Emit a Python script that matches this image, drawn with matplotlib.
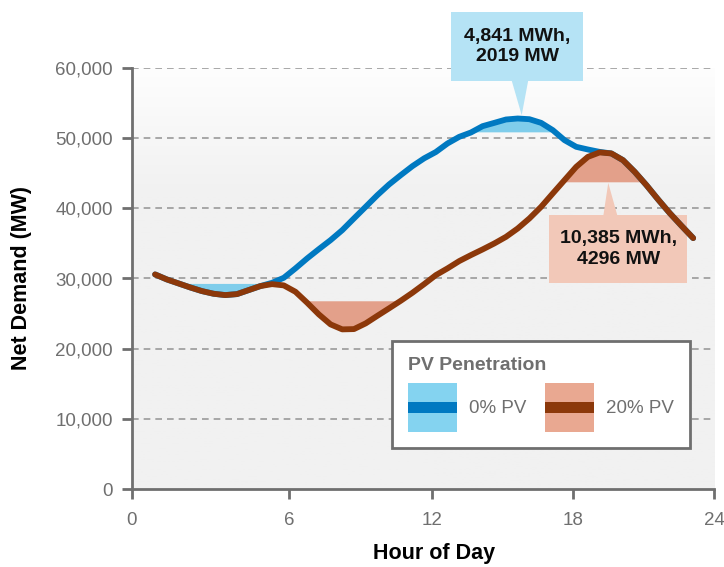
import matplotlib
matplotlib.use('Agg')
import matplotlib.pyplot as plt
import numpy as np
from matplotlib.patches import Rectangle, Polygon
from matplotlib.legend_handler import HandlerBase
from matplotlib.colors import LinearSegmentedColormap

plt.rcParams['font.family'] = ['Liberation Sans', 'DejaVu Sans']

# ---------------- data (half-hourly readings, hour 1 .. 24) ----------------
hours = [1.0, 1.5, 2.0, 2.5, 3.0, 3.5, 4.0, 4.5, 5.0, 5.5, 6.0, 6.5, 7.0, 7.5, 8.0, 8.5,
         9.0, 9.5, 10.0, 10.5, 11.0, 11.5, 12.0, 12.5, 13.0, 13.5, 14.0, 14.5, 15.0, 15.5,
         16.0, 16.5, 17.0, 17.5, 18.0, 18.5, 19.0, 19.5, 20.0, 20.5, 21.0, 21.5, 22.0, 22.5,
         23.0, 23.5, 24.0]
demand_0pv = [30580, 29870, 29300, 28730, 28210, 27830, 27640, 27780, 28350, 28920,
              29390, 30100, 31440, 32860, 34180, 35460, 36880, 38550, 40200, 41860,
              43380, 44710, 45990, 47100, 48000, 49220, 50160, 50780, 51680, 52150,
              52630, 52770, 52670, 52150, 51110, 49690, 48740, 48360, 48020, 47800,
              46840, 45180, 43290, 41250, 39300, 37500, 35750]
demand_20pv = [30580, 29870, 29300, 28730, 28210, 27830, 27640, 27780, 28350, 28920,
               29200, 29020, 28110, 26550, 24890, 23470, 22760, 22800, 23610, 24690,
               25750, 26830, 27970, 29200, 30480, 31440, 32480, 33330, 34140, 34990,
               35930, 37120, 38550, 40200, 42110, 44000, 45890, 47310, 47940, 47800,
               46840, 45180, 43290, 41250, 39300, 37500, 35750]
series_labels = ['0% PV', '20% PV']
legend_title = 'PV Penetration'

valley_0pv = 29300
peak_0pv = 50870
valley_20pv = 26830
peak_20pv = 43760

callout_0pv = '4,841 MWh,\n2019 MW'
callout_20pv = '10,385 MWh,\n4296 MW'

xtick_labels = ['0', '6', '12', '18', '24']
xtick_pos = [0, 6.73, 12.82, 18.88, 24.89]
ytick_vals = [0, 10000, 20000, 30000, 40000, 50000, 60000]
ytick_labels = ['0', '10,000', '20,000', '30,000', '40,000', '50,000', '60,000']

# ---------------- style ----------------
blue_line = '#0079c1'
blue_fill = '#7fcdeb'
blue_leg = '#84d3f0'
blue_call = '#b5e3f5'
brown_line = '#8c380a'
brown_fill = '#e3a08a'
brown_leg = '#e9a891'
brown_call = '#f2c8b8'
axis_gray = '#6f6f6f'


class Swatch:
    def __init__(self, fill, line):
        self.fill = fill
        self.line = line


class SwatchHandler(HandlerBase):
    def create_artists(self, legend, orig_handle, xdescent, ydescent, width, height,
                       fontsize, trans):
        bg = Rectangle((-xdescent, -ydescent), width, height, facecolor=orig_handle.fill,
                       edgecolor='none', transform=trans)
        band_h = 8.0
        band = Rectangle((-xdescent, -ydescent + height / 2 - band_h / 2), width, band_h,
                         facecolor=orig_handle.line, edgecolor='none', transform=trans)
        return [bg, band]


XMAX = 24.89
fig = plt.figure(figsize=(7.24, 5.67), dpi=100)
ax = fig.add_axes([131.7 / 724, 1 - 489.3 / 567, 582.3 / 724, 421.6 / 567])

# background gradient
grad = np.linspace(0, 1, 256).reshape(-1, 1)
cmap = LinearSegmentedColormap.from_list('bg', [(0, '#f1f1f1'), (0.7, '#f1f1f1'), (1, '#fefefe')])
ax.imshow(grad, extent=[0, XMAX, 0, 60000], origin='lower', aspect='auto', cmap=cmap, zorder=0)

# gridlines
for v in ytick_vals[1:]:
    ax.axhline(v, color='#9a9a9a', lw=1.2, ls=(0, (4, 3)), zorder=1)

h = np.array(hours, dtype=float)
d0 = np.array(demand_0pv, dtype=float)
d20 = np.array(demand_20pv, dtype=float)

# fills
ax.fill_between(h, d0, valley_0pv, where=(d0 < valley_0pv) & (h < 8), interpolate=True,
                color=blue_fill, lw=0, zorder=2)
ax.fill_between(h, d0, peak_0pv, where=d0 > peak_0pv, interpolate=True,
                color=blue_fill, lw=0, zorder=2)
ax.fill_between(h, d20, valley_20pv, where=(d20 < valley_20pv), interpolate=True,
                color=brown_fill, lw=0, zorder=2)
ax.fill_between(h, d20, peak_20pv, where=d20 > peak_20pv, interpolate=True,
                color=brown_fill, lw=0, zorder=2)

# callouts
ax.add_patch(Rectangle((13.65, 58120), 19.29 - 13.65, 67920 - 58120, facecolor=blue_call,
                       edgecolor='none', clip_on=False, zorder=3))
ax.add_patch(Polygon([(16.24, 58200), (16.95, 58200), (16.67, 53240)], closed=True,
                     facecolor=blue_call, edgecolor='none', clip_on=False, zorder=3))
ax.text((13.65 + 19.29) / 2, (58120 + 67920) / 2, callout_0pv, ha='center', va='center',
        fontsize=14, fontweight='bold', color='#111111', linespacing=1.3, zorder=6, clip_on=False)

ax.add_patch(Rectangle((17.84, 29390), 23.74 - 17.84, 39020 - 29390, facecolor=brown_call,
                       edgecolor='none', clip_on=False, zorder=3))
ax.add_patch(Polygon([(20.16, 38950), (20.76, 38950), (20.37, 43610)], closed=True,
                     facecolor=brown_call, edgecolor='none', clip_on=False, zorder=3))
ax.text((17.84 + 23.74) / 2, (29390 + 39020) / 2, callout_20pv, ha='center', va='center',
        fontsize=14, fontweight='bold', color='#111111', linespacing=1.3, zorder=3.5)

# lines
ax.plot(h, d0, color=blue_line, lw=4.2, solid_capstyle='round', solid_joinstyle='round', zorder=4)
ax.plot(h, d20, color=brown_line, lw=4.2, solid_capstyle='round', solid_joinstyle='round', zorder=5)

# axes
ax.set_xlim(0, XMAX)
ax.set_ylim(0, 60000)
ax.set_xticks(xtick_pos)
ax.set_xticklabels(xtick_labels)
ax.set_yticks(ytick_vals)
ax.set_yticklabels(ytick_labels)
for s in ['top', 'right']:
    ax.spines[s].set_visible(False)
for s in ['left', 'bottom']:
    ax.spines[s].set_color(axis_gray)
    ax.spines[s].set_linewidth(2)
    ax.spines[s].set_zorder(6)
ax.tick_params(axis='both', direction='out', length=7.5, width=2, color=axis_gray,
               labelcolor=axis_gray, labelsize=13.5)
ax.tick_params(axis='y', pad=6)
ax.tick_params(axis='x', pad=9)

fig.text(22 / 724, 1 - 278 / 567, 'Net Demand (MW)', rotation=90, ha='center', va='center',
         fontsize=15.5, fontweight='bold', color='black')
fig.text(434.5 / 724, 1 - 553 / 567, 'Hour of Day', ha='center', va='center',
         fontsize=15.5, fontweight='bold', color='black')

# legend
handles = [Swatch(blue_leg, blue_line), Swatch(brown_leg, brown_line)]
leg = ax.legend(handles, series_labels, handler_map={Swatch: SwatchHandler()},
                loc='upper left', bbox_to_anchor=(0.447, 0.352), borderaxespad=0,
                ncol=2, fontsize=13.5, title=legend_title,
                title_fontproperties={'weight': 'bold', 'size': 14}, alignment='left',
                handlelength=2.6, handleheight=3.6, handletextpad=0.65, columnspacing=1.0,
                borderpad=0.85, fancybox=False, framealpha=1, edgecolor=axis_gray)
leg.get_frame().set_linewidth(2)
leg.get_title().set_color(axis_gray)
for t in leg.get_texts():
    t.set_color(axis_gray)
leg.set_zorder(7)

fig.savefig('out.png', dpi=100)
